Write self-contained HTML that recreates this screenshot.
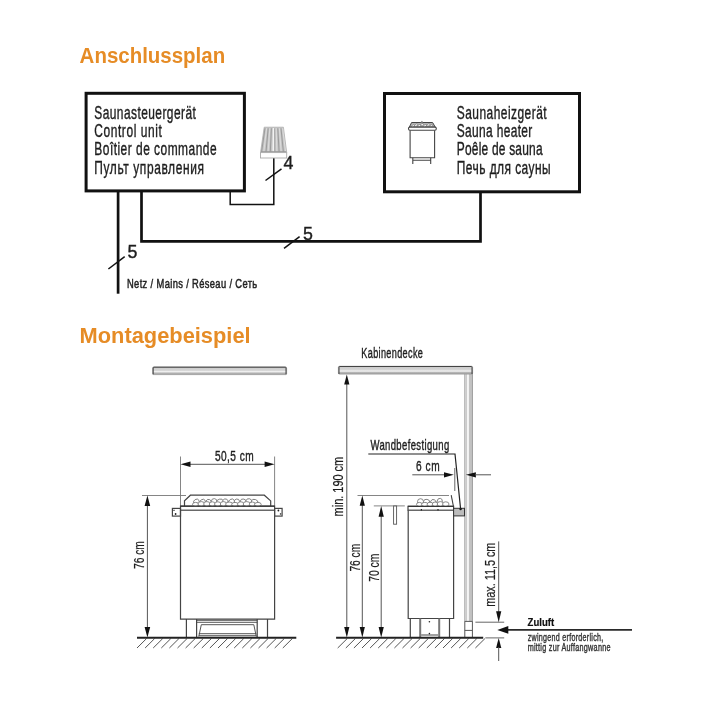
<!DOCTYPE html>
<html><head><meta charset="utf-8"><style>
html,body{margin:0;padding:0;background:#fff;}
svg{display:block;will-change:transform;}
text{font-family:"Liberation Sans",sans-serif;}
</style></head><body>
<svg width="709" height="709" viewBox="0 0 709 709">
<defs>
<linearGradient id="barH" x1="0" y1="0" x2="0" y2="1">
<stop offset="0" stop-color="#c8c8c8"/><stop offset="0.45" stop-color="#d6d6d6"/><stop offset="0.62" stop-color="#f4f4f4"/><stop offset="0.8" stop-color="#b4b4b4"/><stop offset="1" stop-color="#a2a2a2"/>
</linearGradient>
<linearGradient id="barV" x1="0" y1="0" x2="1" y2="0">
<stop offset="0" stop-color="#a8a8a8"/><stop offset="0.15" stop-color="#c8c8c8"/><stop offset="0.45" stop-color="#fafafa"/><stop offset="0.6" stop-color="#c4c4c4"/><stop offset="0.85" stop-color="#bbbbbb"/><stop offset="1" stop-color="#8a8a8a"/>
</linearGradient>
</defs>
<rect width="709" height="709" fill="#fff"/>

<text x="79.6" y="62.8" font-size="22.4" font-weight="bold" fill="#e68c26" textLength="145.6" lengthAdjust="spacingAndGlyphs" >Anschlussplan</text>
<rect x="86.1" y="93.3" width="158.3" height="97.6" fill="none" stroke="#111" stroke-width="3"/>
<rect x="384.5" y="93.5" width="195" height="98.3" fill="none" stroke="#111" stroke-width="3"/>
<text transform="scale(0.68,1)" x="138.68" y="118.6" font-size="17.6" font-weight="normal" fill="#1e1e1e" stroke="#1e1e1e" stroke-width="0.38" textLength="149.26" lengthAdjust="spacing" >Saunasteuergerät</text>
<text transform="scale(0.68,1)" x="138.68" y="137.04999999999998" font-size="17.6" font-weight="normal" fill="#1e1e1e" stroke="#1e1e1e" stroke-width="0.38" textLength="99.26" lengthAdjust="spacing" >Control unit</text>
<text transform="scale(0.68,1)" x="138.68" y="155.5" font-size="17.6" font-weight="normal" fill="#1e1e1e" stroke="#1e1e1e" stroke-width="0.38" textLength="179.85" lengthAdjust="spacing" >Boîtier de commande</text>
<text transform="scale(0.68,1)" x="138.68" y="173.95" font-size="17.6" font-weight="normal" fill="#1e1e1e" stroke="#1e1e1e" stroke-width="0.38" textLength="161.18" lengthAdjust="spacing" >Пульт управления</text>
<text transform="scale(0.68,1)" x="671.76" y="118.6" font-size="17.6" font-weight="normal" fill="#1e1e1e" stroke="#1e1e1e" stroke-width="0.38" textLength="132.06" lengthAdjust="spacing" >Saunaheizgerät</text>
<text transform="scale(0.68,1)" x="671.76" y="137.04999999999998" font-size="17.6" font-weight="normal" fill="#1e1e1e" stroke="#1e1e1e" stroke-width="0.38" textLength="111.03" lengthAdjust="spacing" >Sauna heater</text>
<text transform="scale(0.68,1)" x="671.76" y="155.5" font-size="17.6" font-weight="normal" fill="#1e1e1e" stroke="#1e1e1e" stroke-width="0.38" textLength="126.18" lengthAdjust="spacing" >Poêle de sauna</text>
<text transform="scale(0.68,1)" x="671.76" y="173.95" font-size="17.6" font-weight="normal" fill="#1e1e1e" stroke="#1e1e1e" stroke-width="0.38" textLength="137.94" lengthAdjust="spacing" >Печь для сауны</text>
<path d="M118.1 192 V293.7" stroke="#111" stroke-width="2.7" fill="none"/>
<path d="M141.5 192 V241.4 H480.5 V192" stroke="#111" stroke-width="2.7" fill="none"/>
<path d="M230.2 192 V204.5 H273.8 V158" stroke="#111" stroke-width="1.5" fill="none"/>
<line x1="108.4" y1="269" x2="124.7" y2="256.7" stroke="#111" stroke-width="1.5" />
<line x1="284" y1="248.4" x2="299.6" y2="236.6" stroke="#111" stroke-width="1.5" />
<line x1="265.5" y1="180.5" x2="281.5" y2="168.8" stroke="#111" stroke-width="1.5" />
<text x="127.6" y="257.6" font-size="17.8" font-weight="normal" fill="#1e1e1e" stroke="#1e1e1e" stroke-width="0.38" >5</text>
<text x="302.9" y="239.5" font-size="17.8" font-weight="normal" fill="#1e1e1e" stroke="#1e1e1e" stroke-width="0.38" >5</text>
<text x="283.4" y="169" font-size="17.8" font-weight="normal" fill="#1e1e1e" stroke="#1e1e1e" stroke-width="0.38" >4</text>
<path d="M264.2 127.2 H283.4 L286.7 152.6 H260.5 Z" fill="#c4c4c4" stroke="#b0b0b0" stroke-width="0.8"/>
<g stroke-width="0.75">
<line x1="265.0" y1="128.3" x2="261.6" y2="151.8" stroke="#8e8e8e"/>
<line x1="266.6" y1="128.3" x2="263.8" y2="151.8" stroke="#e4e4e4"/>
<line x1="268.2" y1="128.3" x2="266.0" y2="151.8" stroke="#8e8e8e"/>
<line x1="269.8" y1="128.3" x2="268.1" y2="151.8" stroke="#e4e4e4"/>
<line x1="271.4" y1="128.3" x2="270.3" y2="151.8" stroke="#8e8e8e"/>
<line x1="273.0" y1="128.3" x2="272.5" y2="151.8" stroke="#e4e4e4"/>
<line x1="274.6" y1="128.3" x2="274.7" y2="151.8" stroke="#8e8e8e"/>
<line x1="276.2" y1="128.3" x2="276.9" y2="151.8" stroke="#e4e4e4"/>
<line x1="277.8" y1="128.3" x2="279.1" y2="151.8" stroke="#8e8e8e"/>
<line x1="279.4" y1="128.3" x2="281.2" y2="151.8" stroke="#e4e4e4"/>
<line x1="281.0" y1="128.3" x2="283.4" y2="151.8" stroke="#8e8e8e"/>
<line x1="282.6" y1="128.3" x2="285.6" y2="151.8" stroke="#e4e4e4"/>
</g>
<line x1="273.6" y1="128" x2="273.6" y2="152" stroke="#f4f4f4" stroke-width="1.1"/>
<line x1="261" y1="151.5" x2="286.2" y2="151.5" stroke="#999" stroke-width="0.8"/>
<rect x="260.5" y="152.6" width="26.2" height="5.4" fill="#fff" stroke="#aaa" stroke-width="0.9"/>
<path d="M409.3 127.2 L411.6 122.5 H432.6 L435.3 127.2 Z" fill="#b4b4b4" stroke="#444" stroke-width="1"/>
<g fill="#f2f2f2" stroke="#666" stroke-width="0.5">
<ellipse cx="413.2" cy="125.8" rx="1.6" ry="0.9" transform="rotate(-35 413.2 125.8)"/>
<ellipse cx="416.2" cy="125.2" rx="1.8" ry="1.0" transform="rotate(-40 416.2 125.2)"/>
<ellipse cx="419.4" cy="125.6" rx="1.6" ry="1.0" transform="rotate(-30 419.4 125.6)"/>
<ellipse cx="422.2" cy="124.6" rx="1.5" ry="1.1" transform="rotate(-20 422.2 124.6)"/>
<ellipse cx="425.2" cy="125.6" rx="1.8" ry="0.9" transform="rotate(-35 425.2 125.6)"/>
<ellipse cx="428.4" cy="125.0" rx="1.7" ry="1.0" transform="rotate(-40 428.4 125.0)"/>
<ellipse cx="431.4" cy="125.7" rx="1.5" ry="0.9" transform="rotate(-30 431.4 125.7)"/>
</g>
<path d="M420.6 122.6 q1.3 -2.2 2.6 0" fill="#bbb" stroke="#555" stroke-width="0.7"/>
<g fill="none" stroke="#444" stroke-width="1.1">
<path d="M410.1 130.2 V157.7 H434.6 V130.2"/>
<rect x="408.5" y="127.1" width="27.8" height="3.1" rx="1.4" fill="#fff"/>
<path d="M412.8 157.7 V163.9 M430.7 157.7 V163.9 M412.8 160.2 H430.7"/>
</g>
<text transform="scale(0.7,1)" x="181.43" y="288" font-size="13.4" font-weight="normal" fill="#222" stroke="#222" stroke-width="0.5" textLength="186.00" lengthAdjust="spacing" >Netz / Mains / Réseau / Сеть</text>
<text x="79.6" y="343.4" font-size="22.4" font-weight="bold" fill="#e68c26" textLength="171" lengthAdjust="spacingAndGlyphs" >Montagebeispiel</text>
<rect x="152.6" y="367" width="134" height="7.6" rx="1" fill="url(#barH)" stroke="#999" stroke-width="0.8"/>
<path d="M153.2 374.3 V368 q0 -0.8 0.8 -0.8 H285.2 q0.8 0 0.8 0.8 V374.3" fill="none" stroke="#444" stroke-width="1"/>
<line x1="180.5" y1="456.5" x2="180.5" y2="506" stroke="#777" stroke-width="0.9" />
<line x1="274.6" y1="456.5" x2="274.6" y2="506" stroke="#777" stroke-width="0.9" />
<line x1="186" y1="464.3" x2="269" y2="464.3" stroke="#555" stroke-width="1" />
<polygon points="180.5,464.3 190.5,461.5 190.5,467.1" fill="#111"/>
<polygon points="274.6,464.3 264.6,461.5 264.6,467.1" fill="#111"/>
<text transform="scale(0.69,1)" x="311.59" y="460.7" font-size="14.7" font-weight="normal" fill="#1e1e1e" stroke="#1e1e1e" stroke-width="0.38" textLength="55.94" lengthAdjust="spacing" >50,5 cm</text>
<line x1="142" y1="495.5" x2="186" y2="495.5" stroke="#777" stroke-width="0.9" />
<line x1="147.4" y1="500" x2="147.4" y2="632" stroke="#555" stroke-width="1" />
<polygon points="147.4,495.5 144.6,506.0 150.2,506.0" fill="#111"/>
<polygon points="147.4,637.5 144.6,627.0 150.2,627.0" fill="#111"/>
<text transform="translate(143.9,569) rotate(-90)" x="0" y="0" font-size="14.7" fill="#1e1e1e" stroke="#1e1e1e" stroke-width="0.2" textLength="27.8" lengthAdjust="spacingAndGlyphs">76 cm</text>
<g fill="none" stroke="#444" stroke-width="1.2">
<path d="M184.5 506.2 V500.8 L190.4 495.2 H264.3 L270.7 500.9 V506.2"/>
<rect x="180.5" y="506.2" width="94.1" height="4" fill="#fff"/>
<path d="M180.5 510.2 V619.1 H274.6 V510.2"/>
<rect x="172.4" y="508.4" width="8.1" height="7.7"/>
<rect x="274.6" y="508.4" width="7.5" height="7.7"/>
<path d="M186.4 619.1 V637.5 M196.6 619.1 V637.5 M257.2 619.1 V637.5 M267.5 619.1 V637.5"/>
<path d="M196.6 620.3 H257.2 M196.6 622.3 H257.2 M201.3 624.7 H253.8 M201.3 624.7 L198.8 636.5 M253.8 624.7 L256.3 636.5 M198.8 633.7 H256.3 M198.8 635.7 H256.3" stroke-width="0.9"/>
</g>
<circle cx="175.6" cy="514" r="0.9" fill="#222"/><path d="M173.2 510.3 h1.6" stroke="#222" stroke-width="0.9"/>
<circle cx="278.4" cy="510.5" r="0.9" fill="#222"/><rect x="279.9" y="513.3" width="1.3" height="1.3" fill="#222"/>
<g fill="#fff" stroke="#6e6e6e" stroke-width="0.8">
<ellipse cx="196.5" cy="501.9" rx="2.9" ry="2.7" transform="rotate(-30 196.5 501.9)"/>
<ellipse cx="202.7" cy="502.0" rx="2.9" ry="2.6" transform="rotate(-32 202.7 502.0)"/>
<ellipse cx="208.6" cy="502.1" rx="2.7" ry="2.7" transform="rotate(23 208.6 502.1)"/>
<ellipse cx="214.1" cy="501.6" rx="2.8" ry="3.0" transform="rotate(5 214.1 501.6)"/>
<ellipse cx="220.0" cy="501.7" rx="3.4" ry="2.6" transform="rotate(-15 220.0 501.7)"/>
<ellipse cx="225.4" cy="501.7" rx="2.7" ry="2.8" transform="rotate(-22 225.4 501.7)"/>
<ellipse cx="231.7" cy="502.0" rx="3.1" ry="2.9" transform="rotate(-31 231.7 502.0)"/>
<ellipse cx="237.0" cy="502.1" rx="2.8" ry="3.1" transform="rotate(-13 237.0 502.1)"/>
<ellipse cx="243.2" cy="501.8" rx="3.0" ry="2.8" transform="rotate(14 243.2 501.8)"/>
<ellipse cx="248.9" cy="501.7" rx="3.1" ry="3.0" transform="rotate(16 248.9 501.7)"/>
<ellipse cx="254.6" cy="502.1" rx="3.4" ry="2.7" transform="rotate(18 254.6 502.1)"/>
<ellipse cx="195.6" cy="504.4" rx="3.1" ry="2.0"/>
<ellipse cx="201.3" cy="504.0" rx="3.3" ry="2.4"/>
<ellipse cx="206.9" cy="504.0" rx="3.2" ry="2.4"/>
<ellipse cx="212.3" cy="504.1" rx="3.0" ry="2.3"/>
<ellipse cx="217.8" cy="504.1" rx="3.2" ry="2.3"/>
<ellipse cx="223.4" cy="504.0" rx="3.1" ry="2.4"/>
<ellipse cx="229.2" cy="504.2" rx="3.5" ry="2.2"/>
<ellipse cx="235.0" cy="504.4" rx="3.3" ry="2.0"/>
<ellipse cx="240.8" cy="504.1" rx="3.3" ry="2.3"/>
<ellipse cx="246.7" cy="504.0" rx="3.5" ry="2.4"/>
<ellipse cx="252.3" cy="504.2" rx="3.0" ry="2.2"/>
<ellipse cx="257.9" cy="504.4" rx="3.3" ry="2.0"/>
</g>
<line x1="180.5" y1="506.2" x2="274.6" y2="506.2" stroke="#333" stroke-width="1.3"/>
<line x1="137.0" y1="648.0" x2="146.5" y2="638.6" stroke="#555" stroke-width="1" />
<line x1="145.1" y1="648.0" x2="154.6" y2="638.6" stroke="#555" stroke-width="1" />
<line x1="153.2" y1="648.0" x2="162.7" y2="638.6" stroke="#555" stroke-width="1" />
<line x1="161.3" y1="648.0" x2="170.8" y2="638.6" stroke="#555" stroke-width="1" />
<line x1="169.4" y1="648.0" x2="178.9" y2="638.6" stroke="#555" stroke-width="1" />
<line x1="177.5" y1="648.0" x2="187.0" y2="638.6" stroke="#555" stroke-width="1" />
<line x1="185.6" y1="648.0" x2="195.1" y2="638.6" stroke="#555" stroke-width="1" />
<line x1="193.7" y1="648.0" x2="203.2" y2="638.6" stroke="#555" stroke-width="1" />
<line x1="201.8" y1="648.0" x2="211.3" y2="638.6" stroke="#555" stroke-width="1" />
<line x1="209.9" y1="648.0" x2="219.4" y2="638.6" stroke="#555" stroke-width="1" />
<line x1="218.0" y1="648.0" x2="227.5" y2="638.6" stroke="#555" stroke-width="1" />
<line x1="226.1" y1="648.0" x2="235.6" y2="638.6" stroke="#555" stroke-width="1" />
<line x1="234.2" y1="648.0" x2="243.7" y2="638.6" stroke="#555" stroke-width="1" />
<line x1="242.3" y1="648.0" x2="251.8" y2="638.6" stroke="#555" stroke-width="1" />
<line x1="250.4" y1="648.0" x2="259.9" y2="638.6" stroke="#555" stroke-width="1" />
<line x1="258.5" y1="648.0" x2="268.0" y2="638.6" stroke="#555" stroke-width="1" />
<line x1="266.6" y1="648.0" x2="276.1" y2="638.6" stroke="#555" stroke-width="1" />
<line x1="274.7" y1="648.0" x2="284.2" y2="638.6" stroke="#555" stroke-width="1" />
<line x1="282.8" y1="648.0" x2="292.3" y2="638.6" stroke="#555" stroke-width="1" />
<line x1="137" y1="637.8" x2="296.3" y2="637.8" stroke="#222" stroke-width="2" />
<rect x="464.3" y="370" width="0.8" height="251.2" fill="#a0a0a0"/>
<rect x="465.1" y="370" width="2.2" height="251.2" fill="#cbcbcb"/>
<rect x="467.3" y="370" width="1.6" height="251.2" fill="#f8f8f8"/>
<rect x="468.9" y="370" width="2.9" height="251.2" fill="#c2c2c2"/>
<rect x="471.8" y="370" width="1.0" height="251.2" fill="#8c8c8c"/>
<rect x="338.4" y="366.3" width="134.2" height="7.8" rx="1" fill="url(#barH)" stroke="#999" stroke-width="0.8"/>
<path d="M339 374 V367.3 q0 -0.8 0.8 -0.8 H471.2 q0.8 0 0.8 0.8 V374" fill="none" stroke="#444" stroke-width="1"/>
<rect x="464.3" y="621.2" width="8.6" height="16.4" fill="#fff"/>
<path d="M464.8 621.2 V637.5 M472.4 621.2 V637.5 M464.8 630.4 H472.4 M464.8 621.4 H472.4" stroke="#555" stroke-width="1" fill="none"/>
<text transform="scale(0.66,1)" x="547.42" y="358.5" font-size="13.8" font-weight="normal" fill="#1e1e1e" stroke="#1e1e1e" stroke-width="0.38" textLength="93.33" lengthAdjust="spacing" >Kabinendecke</text>
<line x1="346.8" y1="384" x2="346.8" y2="630" stroke="#555" stroke-width="1" />
<polygon points="346.8,374.4 344.2,384.4 349.4,384.4" fill="#111"/>
<polygon points="346.8,637.5 344.2,627.0 349.4,627.0" fill="#111"/>
<text transform="translate(343,516.4) rotate(-90)" x="0" y="0" font-size="14.2" fill="#1e1e1e" stroke="#1e1e1e" stroke-width="0.2" textLength="59.6" lengthAdjust="spacingAndGlyphs">min. 190 cm</text>
<line x1="357.5" y1="495.5" x2="449" y2="495.5" stroke="#777" stroke-width="0.9" />
<line x1="362.3" y1="505" x2="362.3" y2="630" stroke="#555" stroke-width="1" />
<polygon points="362.3,495.5 359.7,505.7 364.9,505.7" fill="#111"/>
<polygon points="362.3,637.5 359.7,627.0 364.9,627.0" fill="#111"/>
<text transform="translate(360.1,571.6) rotate(-90)" x="0" y="0" font-size="14.7" fill="#1e1e1e" stroke="#1e1e1e" stroke-width="0.2" textLength="27.8" lengthAdjust="spacingAndGlyphs">76 cm</text>
<line x1="373.8" y1="505.9" x2="404.8" y2="505.9" stroke="#777" stroke-width="0.9" />
<line x1="381.2" y1="515" x2="381.2" y2="630" stroke="#555" stroke-width="1" />
<polygon points="381.2,505.9 378.6,516.7 383.8,516.7" fill="#111"/>
<polygon points="381.2,637.5 378.6,627.0 383.8,627.0" fill="#111"/>
<text transform="translate(378.8,581.8) rotate(-90)" x="0" y="0" font-size="14.7" fill="#1e1e1e" stroke="#1e1e1e" stroke-width="0.2" textLength="28.2" lengthAdjust="spacingAndGlyphs">70 cm</text>
<rect x="393.6" y="506" width="3" height="18.2" fill="#fff" stroke="#555" stroke-width="0.9"/>
<g fill="none" stroke="#444" stroke-width="1.2">
<rect x="408" y="506.3" width="45.6" height="3.9" fill="#fff"/>
<path d="M408.2 510.2 V618.5 H453.6 V510.2"/>
<path d="M410.3 618.5 V637.5 M449.5 618.5 V637.5"/>
<path d="M420.2 618.5 V637.5 M439.2 618.5 V637.5" stroke="#777" stroke-width="2"/>
<path d="M421.2 635 H438" stroke-width="1"/>
</g>
<circle cx="429.4" cy="621.7" r="0.8" fill="#222"/><circle cx="429.4" cy="633.6" r="0.8" fill="#222"/>
<path d="M421.4 509 v1.5 M438 509 v1.5" stroke="#222" stroke-width="1.2"/>
<g fill="#fff" stroke="#6e6e6e" stroke-width="0.8">
<ellipse cx="420.5" cy="501.7" rx="3.0" ry="3.0" transform="rotate(-2 420.5 501.7)"/>
<ellipse cx="426.6" cy="502.0" rx="3.1" ry="2.7" transform="rotate(9 426.6 502.0)"/>
<ellipse cx="433.2" cy="502.3" rx="2.7" ry="2.8" transform="rotate(22 433.2 502.3)"/>
<ellipse cx="439.7" cy="501.6" rx="2.6" ry="3.3" transform="rotate(11 439.7 501.6)"/>
<ellipse cx="419.4" cy="504.4" rx="2.9" ry="2.0"/>
<ellipse cx="424.8" cy="504.4" rx="3.2" ry="2.0"/>
<ellipse cx="430.1" cy="504.3" rx="2.9" ry="2.1"/>
<ellipse cx="435.1" cy="504.2" rx="2.8" ry="2.2"/>
<ellipse cx="440.3" cy="504.0" rx="3.1" ry="2.4"/>
<ellipse cx="445.8" cy="504.1" rx="3.2" ry="2.3"/>
</g>
<line x1="408" y1="506.3" x2="453.6" y2="506.3" stroke="#333" stroke-width="1.3"/>
<rect x="453.6" y="508.3" width="10.9" height="7.6" fill="#bcbcbc" stroke="#333" stroke-width="1"/>
<circle cx="460.6" cy="509" r="1.2" fill="#111"/>
<text transform="scale(0.69,1)" x="536.81" y="449.6" font-size="13.8" font-weight="normal" fill="#1e1e1e" stroke="#1e1e1e" stroke-width="0.38" textLength="114.20" lengthAdjust="spacing" >Wandbefestigung</text>
<path d="M368.3 454 H455 L460.6 509" stroke="#222" stroke-width="1.2" fill="none"/>
<text transform="scale(0.69,1)" x="602.90" y="470.7" font-size="14.7" font-weight="normal" fill="#1e1e1e" stroke="#1e1e1e" stroke-width="0.38" textLength="34.20" lengthAdjust="spacing" >6 cm</text>
<line x1="412.3" y1="474.8" x2="445" y2="474.8" stroke="#555" stroke-width="1" />
<polygon points="453.8,474.8 444.0,472.2 444.0,477.4" fill="#111"/>
<line x1="454.8" y1="468" x2="454.8" y2="491" stroke="#666" stroke-width="1" />
<line x1="451.2" y1="495.2" x2="453.4" y2="506.2" stroke="#444" stroke-width="1.1" />
<polygon points="465.9,474.8 475.9,472.2 475.9,477.4" fill="#111"/>
<line x1="475" y1="474.8" x2="491" y2="474.8" stroke="#555" stroke-width="1" />
<line x1="475.4" y1="622.2" x2="504.2" y2="622.2" stroke="#666" stroke-width="1" />
<line x1="485.3" y1="637.9" x2="504.2" y2="637.9" stroke="#666" stroke-width="1" />
<line x1="498.7" y1="541.4" x2="498.7" y2="612" stroke="#555" stroke-width="1" />
<polygon points="498.7,622.2 496.1,611.2 501.3,611.2" fill="#111"/>
<polygon points="498.7,637.9 496.1,647.9 501.3,647.9" fill="#111"/>
<line x1="498.7" y1="647" x2="498.7" y2="661" stroke="#555" stroke-width="1" />
<text transform="translate(494.5,606.8) rotate(-90)" x="0" y="0" font-size="15.0" fill="#1e1e1e" stroke="#1e1e1e" stroke-width="0.2" textLength="64.2" lengthAdjust="spacingAndGlyphs">max. 11,5 cm</text>
<line x1="506" y1="629.9" x2="632" y2="629.9" stroke="#2a2a2a" stroke-width="1.7" />
<polygon points="497.3,629.9 508.3,626.0 508.3,633.8" fill="#111"/>
<text x="527.6" y="626.2" font-size="10.2" font-weight="bold" fill="#111" stroke="#111" stroke-width="0.2" textLength="26.5" lengthAdjust="spacingAndGlyphs" >Zuluft</text>
<text transform="scale(0.7,1)" x="753.86" y="640.7" font-size="10.2" font-weight="normal" fill="#333" stroke="#333" stroke-width="0.38" textLength="107.86" lengthAdjust="spacing" >zwingend erforderlich,</text>
<text transform="scale(0.71,1)" x="743.24" y="650.9" font-size="10.2" font-weight="normal" fill="#333" stroke="#333" stroke-width="0.38" textLength="116.62" lengthAdjust="spacing" >mittig zur Auffangwanne</text>
<line x1="337.7" y1="648.0" x2="347.2" y2="638.6" stroke="#555" stroke-width="1" />
<line x1="345.8" y1="648.0" x2="355.3" y2="638.6" stroke="#555" stroke-width="1" />
<line x1="353.9" y1="648.0" x2="363.4" y2="638.6" stroke="#555" stroke-width="1" />
<line x1="362.0" y1="648.0" x2="371.5" y2="638.6" stroke="#555" stroke-width="1" />
<line x1="370.1" y1="648.0" x2="379.6" y2="638.6" stroke="#555" stroke-width="1" />
<line x1="378.2" y1="648.0" x2="387.7" y2="638.6" stroke="#555" stroke-width="1" />
<line x1="386.3" y1="648.0" x2="395.8" y2="638.6" stroke="#555" stroke-width="1" />
<line x1="394.4" y1="648.0" x2="403.9" y2="638.6" stroke="#555" stroke-width="1" />
<line x1="402.5" y1="648.0" x2="412.0" y2="638.6" stroke="#555" stroke-width="1" />
<line x1="410.6" y1="648.0" x2="420.1" y2="638.6" stroke="#555" stroke-width="1" />
<line x1="418.7" y1="648.0" x2="428.2" y2="638.6" stroke="#555" stroke-width="1" />
<line x1="426.8" y1="648.0" x2="436.3" y2="638.6" stroke="#555" stroke-width="1" />
<line x1="434.9" y1="648.0" x2="444.4" y2="638.6" stroke="#555" stroke-width="1" />
<line x1="443.0" y1="648.0" x2="452.5" y2="638.6" stroke="#555" stroke-width="1" />
<line x1="451.1" y1="648.0" x2="460.6" y2="638.6" stroke="#555" stroke-width="1" />
<line x1="459.2" y1="648.0" x2="468.7" y2="638.6" stroke="#555" stroke-width="1" />
<line x1="467.3" y1="648.0" x2="476.8" y2="638.6" stroke="#555" stroke-width="1" />
<line x1="475.4" y1="648.0" x2="484.9" y2="638.6" stroke="#555" stroke-width="1" />
<line x1="336.1" y1="637.7" x2="483.2" y2="637.7" stroke="#222" stroke-width="2" />
</svg></body></html>
